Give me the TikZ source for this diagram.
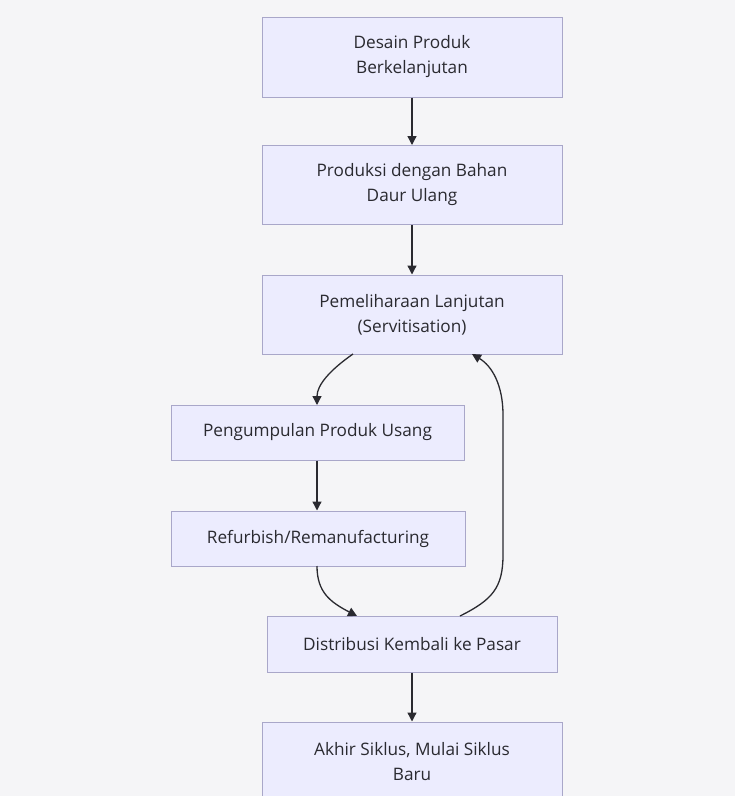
\documentclass[tikz,border=0pt]{standalone}
\usepackage{fontspec}
\setmainfont{Open Sans}
\usetikzlibrary{arrows.meta}
\definecolor{bgc}{HTML}{F5F5F7}
\definecolor{boxfill}{HTML}{ECECFE}
\definecolor{boxline}{HTML}{A9A7C9}
\definecolor{ink}{HTML}{2A2A30}
\begin{document}
\begin{tikzpicture}[x=1pt,y=-1pt,
  box/.style={draw=boxline, line width=1pt, fill=boxfill, text=ink, align=center,
    font=\fontsize{17.2}{25}\selectfont, inner sep=0pt},
  flow/.style={draw=ink, line width=1.3pt, -{Triangle[length=9pt,width=9pt]}}]
\useasboundingbox (0,0) rectangle (735,796);
\clip (0,0) rectangle (735,796);
\fill[bgc] (0,0) rectangle (735,796);
\node[box, minimum width=300pt, minimum height=80pt] (a) at (412,57) {Desain Produk\\Berkelanjutan};
\node[box, minimum width=300pt, minimum height=79pt] (b) at (412,185) {Produksi dengan Bahan\\Daur Ulang};
\node[box, minimum width=300pt, minimum height=79pt] (c) at (412,314.5) {Pemeliharaan Lanjutan\\(Servitisation)};
\node[box, minimum width=293pt, minimum height=55pt] (d) at (317.5,432.5) {Pengumpulan Produk Usang};
\node[box, minimum width=294pt, minimum height=55pt] (e) at (318,538.5) {Refurbish/Remanufacturing};
\node[box, minimum width=290pt, minimum height=56pt] (f) at (412,644) {Distribusi Kembali ke Pasar};
\node[box, minimum width=300pt, minimum height=80pt] (g) at (412,762) {Akhir Siklus, Mulai Siklus\\Baru};
\draw[flow] (a.south) -- (b.north);
\draw[flow] (b.south) -- (c.north);
\draw[flow] (f.south) -- (g.north);
\coordinate (c1) at (353,354);
\coordinate (d1) at (317,405);
\draw[flow] (c1) .. controls (330,370) and (317,385) .. (d1);
\draw[flow] (d.south -| d1) -- (e.north -| d1);
\coordinate (e1) at (317,566);
\coordinate (f1) at (357,616);
\draw[flow] (e1) .. controls (317,592) and (330,602) .. (f1);
\coordinate (f2) at (460,616);
\coordinate (c2) at (472,354);
\draw[flow] (f2) .. controls (492,600) and (503,588) .. (503,555) -- (503,415) .. controls (503,385) and (492,366) .. (c2);
\end{tikzpicture}
\end{document}
